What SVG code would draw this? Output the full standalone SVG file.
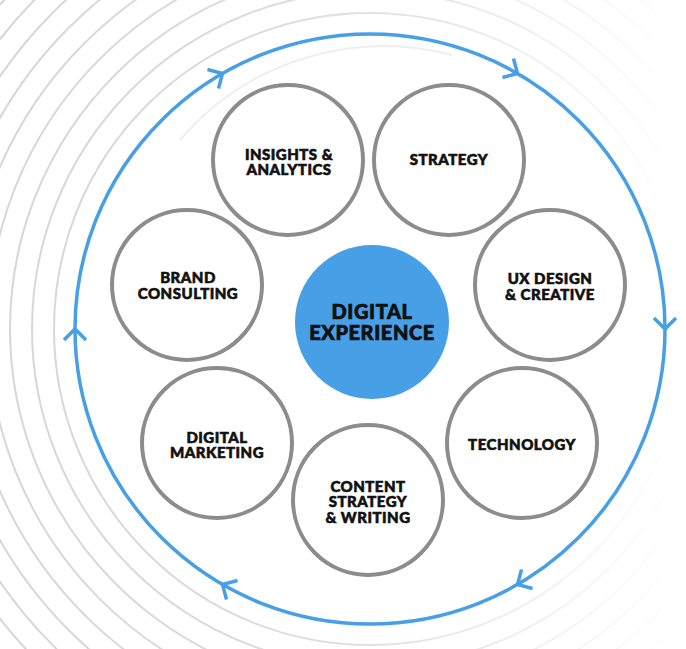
<svg xmlns="http://www.w3.org/2000/svg" width="686" height="649" viewBox="0 0 686 649">
  <defs>
    <linearGradient id="fade" gradientUnits="userSpaceOnUse" x1="0" y1="300" x2="680" y2="300">
      <stop offset="0" stop-color="#d6d6d6" stop-opacity="1"/>
      <stop offset="0.5" stop-color="#d6d6d6" stop-opacity="0.8"/>
      <stop offset="0.85" stop-color="#d6d6d6" stop-opacity="0.25"/>
      <stop offset="1" stop-color="#d6d6d6" stop-opacity="0"/>
    </linearGradient>
    <path id="chev" d="M-11,-11 L0,0 L-11,11"/>
  </defs>
  <style>
    .bg { fill: none; stroke: url(#fade); stroke-width: 2; }
    .node circle { fill: #ffffff; stroke: #8c8c8c; stroke-width: 4; }
    .node text { font-family: Lato, "Liberation Sans", sans-serif; font-weight: 900; font-size: 15px; letter-spacing: 0.5px; fill: #111111; stroke: #111111; stroke-width: 0.6px; text-anchor: middle; }
    #center circle { fill: #479fe6; stroke: none; }
    #center text { font-family: Lato, "Liberation Sans", sans-serif; font-weight: 900; font-size: 20px; letter-spacing: 0.6px; fill: #111111; stroke: #111111; stroke-width: 0.7px; text-anchor: middle; }
    .ring { fill: none; stroke: #479fe6; stroke-width: 3.5; }
    .chev { fill: none; stroke: #479fe6; stroke-width: 3.5; stroke-linecap: butt; }
  </style>
  <rect width="686" height="649" fill="#ffffff"/>
  <g id="background">
    <circle class="bg" cx="370" cy="329" r="316"/>
    <circle class="bg" cx="370" cy="329" r="338"/>
    <circle class="bg" cx="370" cy="329" r="360"/>
    <circle class="bg" cx="370" cy="329" r="382"/>
    <circle class="bg" cx="370" cy="329" r="404"/>
    <circle class="bg" cx="370" cy="329" r="426"/>
    <circle class="bg" cx="370" cy="329" r="448"/>
    <circle class="bg" cx="370" cy="329" r="470"/>
    <circle class="bg" cx="370" cy="329" r="492"/>
    <path d="M180,140 A268,268 0 0 1 452,55" fill="none" stroke="#eeeeee" stroke-width="2"/>
  </g>
  <g id="connectors">
    <circle class="ring" cx="370" cy="329" r="295"/>
    <use href="#chev" class="chev" transform="translate(222.5,73.5) rotate(-30)"/>
    <use href="#chev" class="chev" transform="translate(517.5,73.5) rotate(30)"/>
    <use href="#chev" class="chev" transform="translate(665,329) rotate(90)"/>
    <use href="#chev" class="chev" transform="translate(517.5,584.5) rotate(150)"/>
    <use href="#chev" class="chev" transform="translate(222.5,584.5) rotate(210)"/>
    <use href="#chev" class="chev" transform="translate(75,329) rotate(270)"/>
  </g>
  <g id="center">
    <circle cx="372" cy="322" r="77"/>
    <text x="372" y="319">DIGITAL</text>
    <text x="372" y="340">EXPERIENCE</text>
  </g>
  <g id="insights" class="node">
    <circle cx="288" cy="160" r="75"/>
    <text x="289" y="160">INSIGHTS &amp;</text>
    <text x="289" y="175">ANALYTICS</text>
  </g>
  <g id="strategy" class="node">
    <circle cx="449" cy="160" r="75"/>
    <text x="449" y="165">STRATEGY</text>
  </g>
  <g id="ux" class="node">
    <circle cx="550" cy="285" r="75"/>
    <text x="550" y="284">UX DESIGN</text>
    <text x="550" y="300">&amp; CREATIVE</text>
  </g>
  <g id="technology" class="node">
    <circle cx="522" cy="443" r="75"/>
    <text x="522" y="450">TECHNOLOGY</text>
  </g>
  <g id="content" class="node">
    <circle cx="368" cy="500" r="75"/>
    <text x="368" y="492">CONTENT</text>
    <text x="368" y="507">STRATEGY</text>
    <text x="368" y="523">&amp; WRITING</text>
  </g>
  <g id="marketing" class="node">
    <circle cx="217" cy="443" r="75"/>
    <text x="217" y="443">DIGITAL</text>
    <text x="217" y="458">MARKETING</text>
  </g>
  <g id="brand" class="node">
    <circle cx="187" cy="285" r="75"/>
    <text x="188" y="283">BRAND</text>
    <text x="188" y="299">CONSULTING</text>
  </g>
</svg>
